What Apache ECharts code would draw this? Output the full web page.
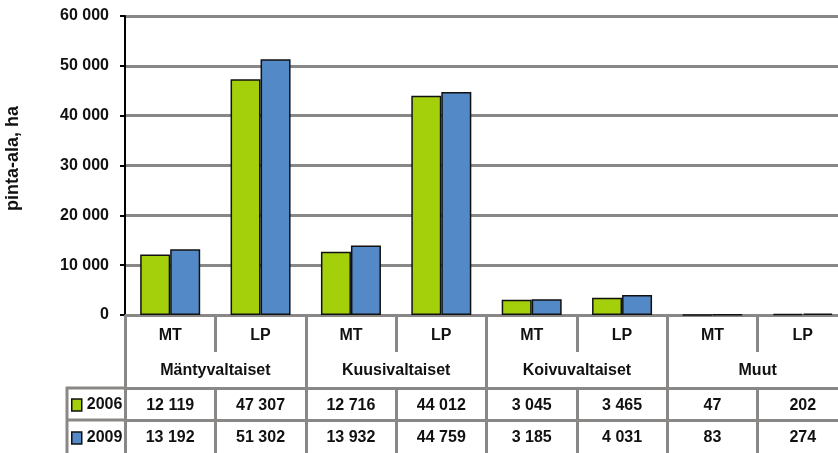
<!DOCTYPE html>
<html>
<head>
<meta charset="utf-8">
<script src="https://cdn.jsdelivr.net/npm/echarts@6/dist/echarts.min.js"></script>
<style>
  html, body { margin: 0; padding: 0; background: #fff; }
  #chart { width: 838px; height: 453px; }
</style>
</head>
<body>
<div id="chart"></div>
<script>
// alatyypit ja pääryhmät
const subCats = ["MT", "LP", "MT", "LP", "MT", "LP", "MT", "LP"];
const groups = ["Mäntyvaltaiset", "Kuusivaltaiset", "Koivuvaltaiset", "Muut"];
const seriesNames = ["2006", "2009"];
const values2006 = [12119, 47307, 12716, 44012, 3045, 3465, 47, 202];
const values2009 = [13192, 51302, 13932, 44759, 3185, 4031, 83, 274];
const yTicks = [0, 10000, 20000, 30000, 40000, 50000, 60000];

const FONT = '"Liberation Sans", Arial, sans-serif';
const GRAY = "#8a8886";

function fmt(v) {
  return String(v).replace(/\B(?=(\d{3})+(?!\d))/g, " ");
}

const chart = echarts.init(document.getElementById("chart"));

const lblBase = { color: "#111", fontFamily: FONT, fontSize: 16, fontWeight: "bold" };
const legText = { color: "#111", fontFamily: FONT, fontSize: 16, fontWeight: "bold" };

chart.setOption({
  animation: false,
  textStyle: { fontFamily: FONT },
  grid: { left: 125, right: -10, top: 16, bottom: 138, containLabel: false, outerBoundsMode: "none" },
  legend: [
    {
      left: 66, top: 392, itemWidth: 10, itemHeight: 12, icon: "rect",
      itemStyle: { borderColor: "#111", borderWidth: 1.5 },
      textStyle: legText, data: [seriesNames[0]]
    },
    {
      left: 66, top: 425, itemWidth: 10, itemHeight: 12, icon: "rect",
      itemStyle: { borderColor: "#111", borderWidth: 1.5 },
      textStyle: legText, data: [seriesNames[1]]
    }
  ],
  xAxis: [
    {
      type: "category",
      data: subCats,
      position: "bottom",
      axisLine: { lineStyle: { color: GRAY, width: 3 } },
      axisTick: { show: true, length: 37, lineStyle: { color: GRAY, width: 3 } },
      axisLabel: Object.assign({ margin: 13, interval: 0 }, lblBase)
    },
    {
      type: "category",
      data: groups,
      position: "bottom",
      offset: 0,
      axisLine: { show: false },
      axisTick: { show: true, length: 138, lineStyle: { color: GRAY, width: 3 } },
      axisLabel: Object.assign({ margin: 48, interval: 0 }, lblBase)
    },
    {
      type: "category",
      data: values2006.map(fmt),
      position: "bottom",
      offset: 73,
      axisLine: { lineStyle: { color: GRAY, width: 3 } },
      axisTick: { show: true, length: 65, lineStyle: { color: GRAY, width: 3 } },
      axisLabel: Object.assign({ margin: 10, interval: 0 }, lblBase)
    },
    {
      type: "category",
      data: values2009.map(fmt),
      position: "bottom",
      offset: 105,
      axisLine: { lineStyle: { color: GRAY, width: 3 } },
      axisTick: { show: false },
      axisLabel: Object.assign({ margin: 10, interval: 0 }, lblBase)
    }
  ],
  yAxis: {
    type: "value",
    min: yTicks[0],
    max: yTicks[yTicks.length - 1],
    interval: 10000,
    name: "pinta-ala, ha",
    nameLocation: "middle",
    nameGap: 103,
    nameRotate: 90,
    nameTextStyle: { color: "#111", fontFamily: FONT, fontSize: 18, fontWeight: "bold", padding: [0, 0, 0, 14] },
    axisLine: { show: true, lineStyle: { color: "#000", width: 2 } },
    axisTick: { show: true, length: 5, lineStyle: { color: "#000", width: 2 } },
    axisLabel: {
      color: "#111", fontFamily: FONT, fontSize: 16, fontWeight: "bold", margin: 16,
      formatter: fmt
    },
    splitLine: { lineStyle: { color: GRAY, width: 3 } }
  },
  series: [
    {
      name: seriesNames[0],
      type: "bar",
      data: values2006,
      barWidth: 30,
      barGap: "0%",
      itemStyle: { color: "#a4cf0b", borderColor: "#111", borderWidth: 1.5 }
    },
    {
      name: seriesNames[1],
      type: "bar",
      data: values2009,
      barWidth: 30,
      barGap: "0%",
      itemStyle: { color: "#5389c6", borderColor: "#111", borderWidth: 1.5 }
    }
  ],
  graphic: [
    { type: "line", shape: { x1: 66, y1: 388, x2: 125, y2: 388 }, style: { stroke: GRAY, lineWidth: 3 } },
    { type: "line", shape: { x1: 66, y1: 420, x2: 125, y2: 420 }, style: { stroke: GRAY, lineWidth: 3 } },
    { type: "line", shape: { x1: 67, y1: 387, x2: 67, y2: 453 }, style: { stroke: GRAY, lineWidth: 3 } }
  ]
});
</script>
</body>
</html>
